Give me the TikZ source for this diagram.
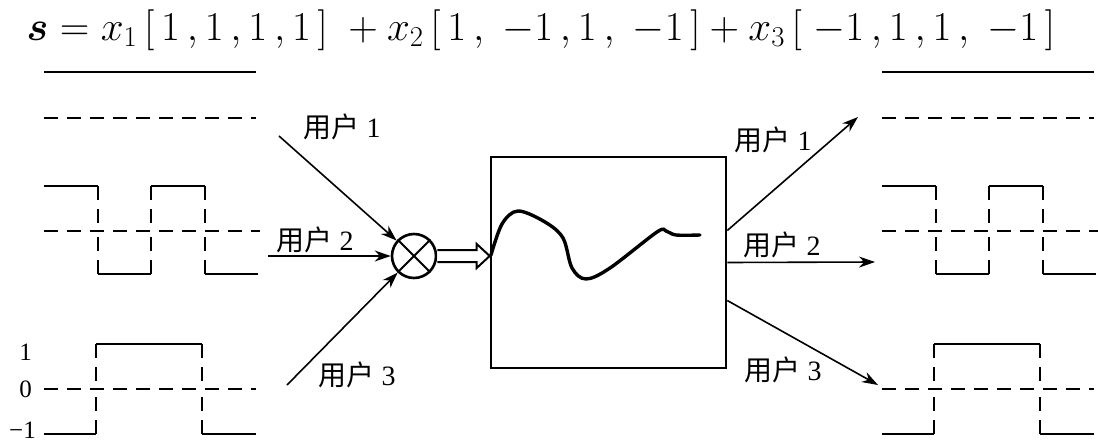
\RequirePackage{fix-cm}
\documentclass[tikz,border=0pt]{standalone}
\usepackage{fontspec}
\usepackage{bm}
\setmainfont{Liberation Serif}
\newfontfamily\cjk{Noto Sans CJK SC}
\usetikzlibrary{arrows.meta,calc}
\tikzset{
  sig/.style={line width=2.6pt},
  zero/.style={line width=2pt,dash pattern=on 14pt off 9pt},
  edge/.style={line width=2.4pt,dash pattern=on 14pt off 9pt},
  feed/.style={line width=1.6pt,-{Stealth[length=16pt,width=11pt]}},
  user/.style={font=\fontsize{28}{28}\selectfont,inner sep=1pt},
  lvl/.style={font=\fontsize{25}{25}\selectfont,inner sep=0pt}
}
\begin{document}
\begin{tikzpicture}[x=1pt,y=-1pt]
  \useasboundingbox (0,0) rectangle (1098,442);
  \node[font=\fontsize{41}{46}\selectfont,inner sep=0pt,anchor=base] (eq) at (541,40)
    {$\bm{s}=x_1\,[\,1\,,1\,,1\,,1\,]\;+x_2\,[\,1\,,\;-1\,,1\,,\;-1\,]+x_3\,[\;-1\,,1\,,1\,,\;-1\,]$};
  % waveforms, sender side and receiver side
  \foreach \ox in {44,882} {
    \begin{scope}[xshift=\ox pt]
      \draw[sig] (0,72) -- (212,72);
      \draw[zero] (0,118) -- (212,118);
      \draw[zero] (0,231) -- (216,231);
      \draw[sig] (0,186) -- (54,186) (107,186) -- (161,186);
      \draw[sig] (54,274) -- (107,274) (161,274) -- (214,274);
      \foreach \tx in {54,107,161}
        \draw[edge] (\tx,186) -- (\tx,231) (\tx,274) -- (\tx,231);
      \draw[zero] (0,389) -- (212,389);
      \draw[sig] (0,434) -- (52,434) (52,344) -- (158,344) (158,434) -- (212,434);
      \foreach \tx in {52,158}
        \draw[edge] (\tx,344) -- (\tx,389) (\tx,434) -- (\tx,389);
    \end{scope}
  }
  \node[lvl,anchor=east] (one) at (32,352) {1};
  \node[lvl,anchor=east] (zer) at (32,389) {0};
  \node[lvl,anchor=east] (mone) at (36,430) {−1};
  % spreading and channel
  \node[circle,draw,line width=2.6pt,minimum size=44pt,inner sep=0pt] (mix) at (414,256) {};
  \draw[line width=2pt] (mix.north west) -- (mix.south east) (mix.north east) -- (mix.south west);
  \node[draw,line width=2.6pt,minimum width=235pt,minimum height=211pt] (chan) at (608.5,262.5) {};
  \coordinate (tip) at (chan.west |- mix);
  \draw[line width=2pt,fill=white] ($(mix.east)+(0,-6)$) -- ($(tip)+(-13,-6)$) -- ($(tip)+(-13,-12)$)
    -- (tip) -- ($(tip)+(-13,12)$) -- ($(tip)+(-13,6)$) -- ($(mix.east)+(0,6)$);
  \draw[line width=3.4pt,line cap=round] plot[smooth,tension=0.55] coordinates
    {(491,255) (502,224) (518,211) (545,222) (563,238) (572,268) (586,279) (610,268) (657,232) (666,231) (676,235) (700,235)};
  % inputs
  \coordinate (in1) at (279,136);
  \coordinate (in2) at (268,256);
  \coordinate (in3) at (287,385);
  \draw[feed] (in1) -- (mix);
  \draw[feed] (in2) -- (mix);
  \draw[feed] (in3) -- (mix);
  \node[user] (l1) at (342,127) {{\cjk 用户} 1};
  \node[user] (l2) at (315,240) {{\cjk 用户} 2};
  \node[user] (l3) at (357,375) {{\cjk 用户} 3};
  % outputs
  \coordinate (out1) at (858,117);
  \coordinate (out2) at (875,262);
  \coordinate (out3) at (878,385);
  \draw[feed] ($(chan.east)+(0,-32)$) -- (out1);
  \draw[feed] (chan.east) -- (out2);
  \draw[feed] ($(chan.east)+(0,38)$) -- (out3);
  \node[user] (r1) at (773,140) {{\cjk 用户} 1};
  \node[user] (r2) at (782,245) {{\cjk 用户} 2};
  \node[user] (r3) at (783,370) {{\cjk 用户} 3};
\end{tikzpicture}
\end{document}
